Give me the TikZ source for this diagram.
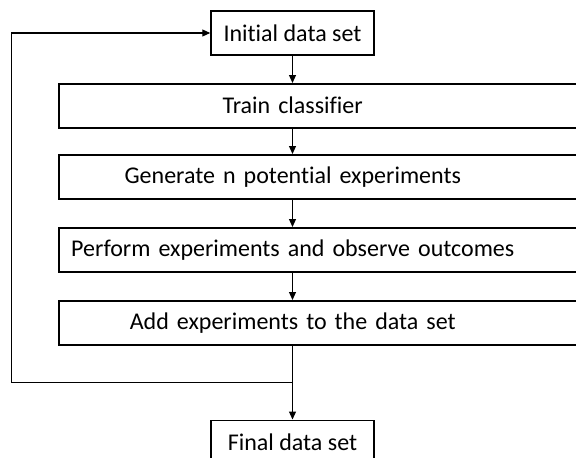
\documentclass[tikz,border=0pt]{standalone}
\usepackage{fontspec}
\setmainfont[Ligatures=NoCommon]{Carlito}
\usetikzlibrary{arrows.meta, positioning}

\begin{document}
\begin{tikzpicture}[
                node distance=28pt,
                box/.style={rectangle, draw=black, line width=1.5pt, fill=white, minimum width=163pt, minimum height=44pt, inner ysep=2pt, align=center, font=\fontsize{24}{26}\selectfont},
                wide/.style={box, text width=548pt, inner xsep=6pt, anchor=north west, execute at begin node={\hspace*{-92pt}}},
                arrow/.style={-{Triangle[length=8pt, width=7pt]}, line width=1.2pt, black}
            ]
                \useasboundingbox (0pt,0pt) rectangle (576pt,-458pt);
                \node[box] (init) at (292.5pt,-33pt) {Initial data set};
                \node[wide] (train) at (58pt,-83pt) {Train classifier};
                \node[wide] (gen) at ([yshift=-71pt]train.north west) {Generate n potential experiments};
                \node[wide] (perf) at ([yshift=-73pt]gen.north west) {Perform experiments and observe outcomes};
                \node[wide] (add) at ([yshift=-73pt]perf.north west) {Add experiments to the data set};
                \node[box, below=74pt of add.south -| init] (final) {Final data set};
                \coordinate (split) at ([yshift=-37pt]add.south -| init);

                \draw[arrow] (init) -- (train.north -| init);
                \draw[arrow] (train.south -| init) -- (gen.north -| init);
                \draw[arrow] (gen.south -| init) -- (perf.north -| init);
                \draw[arrow] (perf.south -| init) -- (add.north -| init);
                \draw[arrow] (add.south -| init) -- (final);
                \draw[arrow] (split) -- ++(-281pt,0) |- (init.west);
            \end{tikzpicture}
\end{document}
